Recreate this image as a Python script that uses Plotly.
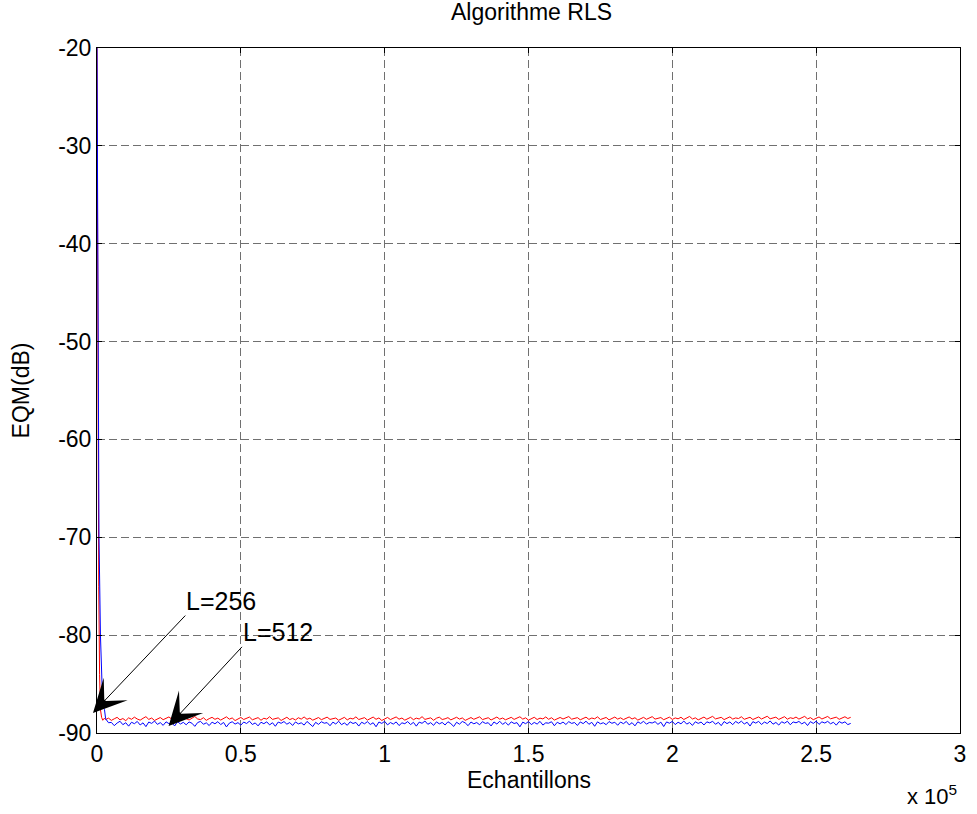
import plotly.graph_objects as go

# ---------------- data ----------------
# transient part (samples, dB)
red_head_x = [0, 300, 600, 900, 1200, 1600, 2000, 2500]
red_head_y = [-20, -55, -75, -84, -87.6, -88.4, -88.7, -88.5]
blue_head_x = [0, 300, 700, 1200, 1600, 1900, 2200, 2600]
blue_head_y = [-20, -50, -70, -80, -85.3, -86.4, -87.4, -87.6]

# steady-state part, one value every 1000 samples from 3000 to 262000
steady_x = list(range(3000, 263000, 1000))

red_steady = [
    -88.62, -88.48, -88.71, -88.55, -88.40, -88.66, -88.52, -88.74, -88.45, -88.60,
    -88.38, -88.57, -88.69, -88.50, -88.33, -88.61, -88.47, -88.72, -88.56, -88.42,
    -88.64, -88.51, -88.36, -88.58, -88.70, -88.46, -88.62, -88.39, -88.55, -88.67,
    -88.49, -88.31, -88.57, -88.63, -88.44, -88.71, -88.53, -88.40, -88.60, -88.48,
    -88.68, -88.52, -88.35, -88.59, -88.46, -88.73, -88.55, -88.41, -88.62, -88.50,
    -88.37, -88.65, -88.54, -88.43, -88.70, -88.49, -88.58, -88.34, -88.61, -88.53,
    -88.45, -88.72, -88.56, -88.39, -88.63, -88.51, -88.67, -88.44, -88.58, -88.36,
    -88.60, -88.48, -88.69, -88.53, -88.42, -88.64, -88.50, -88.38, -88.61, -88.55,
    -88.47, -88.70, -88.52, -88.40, -88.66, -88.49, -88.57, -88.35, -88.62, -88.54,
    -88.43, -88.68, -88.51, -88.37, -88.60, -88.46, -88.72, -88.55, -88.41, -88.63,
    -88.50, -88.36, -88.59, -88.47, -88.69, -88.53, -88.40, -88.64, -88.48, -88.57,
    -88.33, -88.61, -88.52, -88.45, -88.70, -88.49, -88.38, -88.62, -88.55, -88.43,
    -88.66, -88.51, -88.39, -88.58, -88.46, -88.71, -88.54, -88.42, -88.60, -88.48,
    -88.35, -88.63, -88.50, -88.44, -88.67, -88.52, -88.37, -88.59, -88.47, -88.65,
    -88.53, -88.40, -88.61, -88.49, -88.34, -88.58, -88.45, -88.69, -88.51, -88.39,
    -88.62, -88.48, -88.56, -88.36, -88.60, -88.44, -88.68, -88.53, -88.41, -88.57,
    -88.46, -88.32, -88.59, -88.50, -88.43, -88.65, -88.52, -88.38, -88.61, -88.47,
    -88.55, -88.35, -88.62, -88.49, -88.41, -88.66, -88.51, -88.37, -88.58, -88.45,
    -88.63, -88.50, -88.36, -88.57, -88.44, -88.68, -88.52, -88.40, -88.60, -88.47,
    -88.33, -88.58, -88.49, -88.42, -88.64, -88.51, -88.38, -88.61, -88.46, -88.55,
    -88.39, -88.62, -88.48, -88.31, -88.57, -88.45, -88.66, -88.50, -88.37, -88.59,
    -88.44, -88.30, -88.56, -88.48, -88.40, -88.63, -88.49, -88.35, -88.58, -88.46,
    -88.52, -88.34, -88.60, -88.47, -88.39, -88.62, -88.50, -88.36, -88.57, -88.43,
    -88.29, -88.55, -88.46, -88.38, -88.61, -88.48, -88.33, -88.59, -88.44, -88.52,
    -88.37, -88.58, -88.45, -88.30, -88.56, -88.43, -88.64, -88.49, -88.36, -88.57,
    -88.42, -88.31, -88.55, -88.47, -88.38, -88.60, -88.46, -88.34, -88.52, -88.40,
]

blue_steady = [
    -88.55, -88.95, -88.92, -89.25, -88.98, -88.80, -89.15, -88.95, -89.30, -88.90,
    -89.05, -88.82, -89.18, -88.96, -89.35, -88.88, -89.02, -88.78, -89.12, -88.94,
    -89.22, -88.86, -89.04, -88.97, -89.28, -88.83, -89.08, -88.91, -89.16, -88.87,
    -89.00, -89.32, -88.93, -88.81, -89.11, -88.96, -89.24, -88.89, -89.06, -88.84,
    -89.14, -88.92, -89.38, -88.99, -88.85, -89.09, -88.94, -89.20, -88.88, -89.03,
    -88.79, -89.13, -88.97, -89.27, -88.90, -89.05, -88.86, -89.17, -88.95, -89.31,
    -88.88, -89.01, -88.83, -89.10, -88.93, -89.23, -88.87, -89.07, -88.96, -89.19,
    -88.82, -89.04, -89.34, -88.91, -89.12, -88.85, -89.00, -88.94, -89.26, -88.89,
    -89.08, -88.80, -89.15, -88.97, -89.21, -88.86, -89.03, -88.92, -89.29, -88.90,
    -89.06, -88.84, -89.13, -88.95, -89.36, -88.88, -89.02, -88.81, -89.17, -88.93,
    -89.09, -88.87, -89.24, -88.96, -89.05, -88.83, -89.14, -88.91, -89.30, -88.89,
    -89.01, -88.78, -89.11, -88.94, -89.22, -88.86, -89.07, -88.92, -89.18, -88.85,
    -89.04, -89.33, -88.90, -89.10, -88.82, -88.97, -89.25, -88.88, -89.06, -88.93,
    -89.16, -88.84, -89.02, -88.95, -89.28, -88.87, -89.08, -88.80, -89.12, -88.91,
    -89.20, -88.86, -89.03, -88.94, -89.37, -88.89, -89.05, -88.83, -89.14, -88.92,
    -89.09, -88.81, -89.19, -88.96, -89.00, -88.85, -89.26, -88.90, -89.07, -88.88,
    -89.13, -88.84, -89.02, -88.93, -89.23, -88.87, -89.04, -88.79, -89.11, -88.91,
    -89.31, -88.86, -89.06, -88.95, -89.15, -88.83, -89.01, -88.90, -89.21, -88.88,
    -89.05, -88.82, -89.17, -88.94, -89.27, -88.86, -89.03, -88.80, -89.10, -88.92,
    -88.98, -88.84, -89.12, -88.89, -89.34, -88.87, -89.00, -88.81, -89.14, -88.90,
    -89.06, -88.78, -89.09, -88.93, -89.22, -88.85, -89.02, -88.88, -89.18, -88.86,
    -88.97, -88.80, -89.11, -88.91, -89.25, -88.83, -89.04, -88.87, -89.15, -88.82,
    -89.01, -88.79, -89.08, -88.90, -89.29, -88.84, -88.99, -88.81, -89.13, -88.88,
    -89.03, -88.77, -89.10, -88.92, -89.19, -88.85, -89.00, -88.80, -89.16, -88.87,
    -88.96, -88.82, -89.07, -88.89, -89.24, -88.84, -89.02, -88.79, -89.12, -88.86,
    -88.98, -88.81, -89.06, -88.90, -89.20, -88.83, -89.00, -88.86, -89.14, -89.02,
]

x_tickvals = [0, 50000, 100000, 150000, 200000, 250000, 300000]
x_ticktext = ["0", "0.5", "1", "1.5", "2", "2.5", "3"]
y_tickvals = [-90, -80, -70, -60, -50, -40, -30, -20]
y_ticktext = ["-90", "-80", "-70", "-60", "-50", "-40", "-30", "-20"]

# annotations (data coords): label, arrow tip, arrow tail (= lower-left of label)
ann_labels = ["L=256", "L=512"]
ann_tip = [(-1400, -87.95), (24900, -89.28)]
ann_tail = [(30700, -78.0), (50400, -81.2)]

# ---------------- figure ----------------
FONT = "Liberation Sans, Arial, sans-serif"
FS = 23

fig = go.Figure()
fig.add_trace(go.Scatter(x=red_head_x + steady_x, y=red_head_y + red_steady,
                         mode="lines", line=dict(color="#ff0000", width=1),
                         showlegend=False))
fig.add_trace(go.Scatter(x=blue_head_x + steady_x, y=blue_head_y + blue_steady,
                         mode="lines", line=dict(color="#0000ff", width=1),
                         showlegend=False))

for lab, tip, tail in zip(ann_labels, ann_tip, ann_tail):
    fig.add_annotation(x=tip[0], y=tip[1], ax=tail[0], ay=tail[1],
                       xref="x", yref="y", axref="x", ayref="y",
                       text=lab, showarrow=True, arrowhead=3, arrowsize=5.5,
                       arrowwidth=1, arrowcolor="black", standoff=0,
                       xanchor="left", yanchor="bottom", borderpad=0,
                       font=dict(family=FONT, size=25, color="black"))

# x-axis label and exponent note (paper coords)
fig.add_annotation(x=0.5, y=-0.068, xref="paper", yref="paper",
                   text="Echantillons", showarrow=False,
                   xanchor="center", yanchor="middle",
                   font=dict(family=FONT, size=FS, color="black"))
fig.add_annotation(x=0.9988, y=-0.091, xref="paper", yref="paper",
                   text="x 10<sup>5</sup>", showarrow=False,
                   xanchor="right", yanchor="middle",
                   font=dict(family=FONT, size=22, color="black"))

axis_common = dict(showline=True, linecolor="black", linewidth=1, mirror="ticks",
                   ticks="inside", ticklen=5, tickcolor="black",
                   showgrid=True, gridcolor="#707070", griddash="8px,4px",
                   gridwidth=1, zeroline=False,
                   tickfont=dict(family=FONT, size=FS, color="black"))

fig.update_xaxes(range=[0, 300000], tickvals=x_tickvals, ticktext=x_ticktext,
                 **axis_common)
fig.update_yaxes(range=[-90, -20], tickvals=y_tickvals, ticktext=y_ticktext,
                 title=dict(text="EQM(dB)", standoff=22,
                            font=dict(family=FONT, size=FS, color="black")),
                 **axis_common)

fig.update_layout(
    width=977, height=814,
    margin=dict(l=97, r=11, t=48, b=81),
    paper_bgcolor="white", plot_bgcolor="white",
    title=dict(text="Algorithme RLS", x=(97 + 966) / 2 / 977, xanchor="center",
               y=1 - 12 / 814, yanchor="middle",
               font=dict(family=FONT, size=FS, color="black")),
)

fig.write_html("out.html")
